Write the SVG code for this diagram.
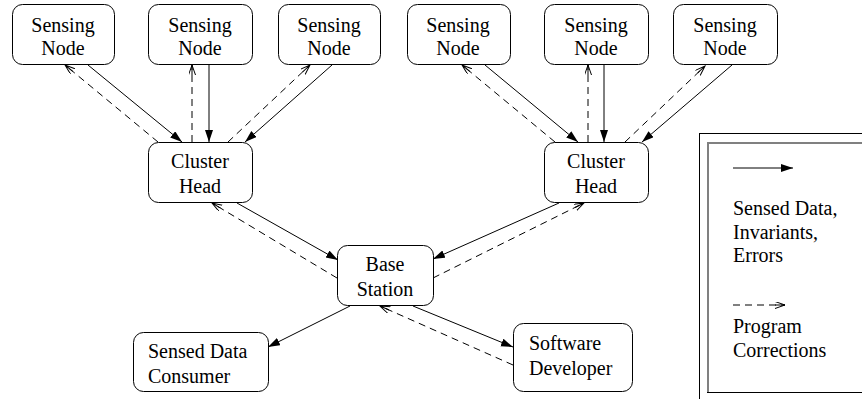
<svg xmlns="http://www.w3.org/2000/svg" width="862" height="399" viewBox="0 0 862 399">
<style>
.box{fill:#fff;stroke:#000;stroke-width:1}
text{font-family:"Liberation Serif","Times New Roman",serif;font-size:20px;fill:#000}
.c{text-anchor:middle}
.s{fill:none;stroke:#000;stroke-width:1;marker-end:url(#fa)}
.d{fill:none;stroke:#000;stroke-width:1;stroke-dasharray:7 5;marker-end:url(#oa)}
</style>
<defs>
<marker id="fa" markerWidth="14" markerHeight="10" refX="12" refY="4" orient="auto" markerUnits="userSpaceOnUse"><path d="M0,0 L12,4 L0,8 z" fill="#000"/></marker>
<marker id="oa" markerWidth="12" markerHeight="10" refX="10" refY="3.5" orient="auto" markerUnits="userSpaceOnUse"><path d="M0,0 L10,3.5 L0,7 M0,3.5 L10,3.5" fill="none" stroke="#000" stroke-width="1"/></marker>
</defs>
<g id="connectors">
<path class="s" d="M88,65 L182,142"/>
<path class="s" d="M209,65 L209,142"/>
<path class="s" d="M332,65 L245,142"/>
<path class="s" d="M485,65 L578,142"/>
<path class="s" d="M604,65 L604,142"/>
<path class="s" d="M732,65 L642,142"/>
<path class="s" d="M237,203 L338,260"/>
<path class="s" d="M559,203 L433,259"/>
<path class="s" d="M350,306 L268,347"/>
<path class="s" d="M413,306 L513,347"/>
<path class="d" d="M158,142 L65,65"/>
<path class="d" d="M192,142 L192,65"/>
<path class="d" d="M228,142 L310,65"/>
<path class="d" d="M555,142 L462,65"/>
<path class="d" d="M588,142 L588,65"/>
<path class="d" d="M625,142 L705,66"/>
<path class="d" d="M337,278 L212,203"/>
<path class="d" d="M433,278 L584,203"/>
<path class="d" d="M513,365 L380,306"/>
</g>
<g id="sn1"><rect class="box" x="12.5" y="4.5" width="102" height="60" rx="10"/><text class="c" x="63" y="32">Sensing</text><text class="c" x="63" y="55">Node</text></g>
<g id="sn2"><rect class="box" x="148.5" y="4.5" width="104" height="60" rx="10"/><text class="c" x="200" y="32">Sensing</text><text class="c" x="200" y="55">Node</text></g>
<g id="sn3"><rect class="box" x="278.5" y="4.5" width="102" height="60" rx="10"/><text class="c" x="329" y="32">Sensing</text><text class="c" x="329" y="55">Node</text></g>
<g id="sn4"><rect class="box" x="407.5" y="4.5" width="103" height="60" rx="10"/><text class="c" x="458" y="32">Sensing</text><text class="c" x="458" y="55">Node</text></g>
<g id="sn5"><rect class="box" x="544.5" y="4.5" width="104" height="60" rx="10"/><text class="c" x="596" y="32">Sensing</text><text class="c" x="596" y="55">Node</text></g>
<g id="sn6"><rect class="box" x="673.5" y="4.5" width="104" height="60" rx="10"/><text class="c" x="725" y="32">Sensing</text><text class="c" x="725" y="55">Node</text></g>
<g id="ch1"><rect class="box" x="148.5" y="142.5" width="104" height="60" rx="10"/><text class="c" x="200" y="168">Cluster</text><text class="c" x="200" y="193">Head</text></g>
<g id="ch2"><rect class="box" x="544.5" y="142.5" width="104" height="60" rx="10"/><text class="c" x="596" y="168">Cluster</text><text class="c" x="596" y="193">Head</text></g>
<g id="base"><rect class="box" x="337.5" y="245.5" width="96" height="60" rx="10"/><text class="c" x="385" y="271">Base</text><text class="c" x="385" y="296">Station</text></g>
<g id="consumer"><rect class="box" x="133.5" y="332.5" width="135" height="59" rx="10"/><text x="148" y="358">Sensed Data</text><text x="148" y="383">Consumer</text></g>
<g id="developer"><rect class="box" x="513.5" y="323.5" width="119" height="68" rx="10"/><text x="529" y="350">Software</text><text x="529" y="375">Developer</text></g>
<g id="legend">
<rect x="699.5" y="133.5" width="200" height="300" fill="none" stroke="#000" stroke-width="1"/>
<path d="M708,392 V143 H870" fill="none" stroke="#808080" stroke-width="2"/>
<path d="M707,392.5 H870" fill="none" stroke="#000" stroke-width="1"/>
<path class="s" d="M733,168 L793,168"/>
<text x="733" y="215">Sensed Data,</text>
<text x="733" y="239">Invariants,</text>
<text x="733" y="262">Errors</text>
<path class="d" d="M733,305 L785,305"/>
<text x="733" y="333">Program</text>
<text x="733" y="357">Corrections</text>
</g>
</svg>
